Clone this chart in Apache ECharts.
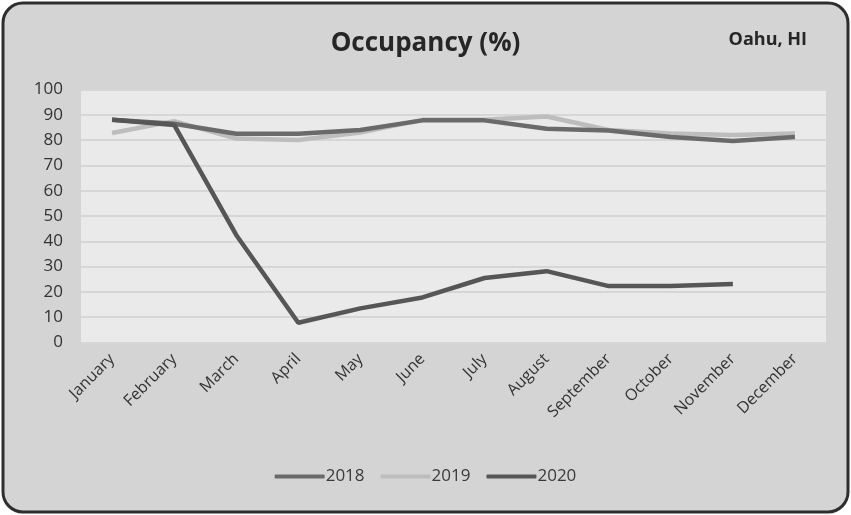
<!DOCTYPE html>
<html><head><meta charset="utf-8">
<script src="https://cdn.jsdelivr.net/npm/echarts@6/dist/echarts.min.js"></script>
<style>html,body{margin:0;padding:0;background:#fff}#c{width:851px;height:515px}</style>
</head><body><div id="c"></div>
<script>
const months = ['January','February','March','April','May','June','July','August','September','October','November','December'];
const y2018 = [88, 86.5, 82.5, 82.5, 84, 87.8, 87.8, 84.5, 83.8, 81.2, 79.6, 81.2];
const y2019 = [82.8, 87.5, 80.6, 80, 83, 88, 88, 89.3, 84, 82.6, 82, 82.6];
const y2020 = [88, 86, 42.5, 7.8, 13.5, 17.8, 25.5, 28.2, 22.3, 22.3, 23.1, null];
const yTicks = [0,10,20,30,40,50,60,70,80,90,100];
const seriesNames = ['2018','2019','2020'];
const colors = ['#6a6a6a','#bdbdbd','#565656'];

const chart = echarts.init(document.getElementById('c'));
const font = 'Open Sans, sans-serif';
chart.setOption({
  backgroundColor: 'transparent',
  animation: false,
  graphic: [{
    type: 'rect', z: -10,
    shape: {x: 3, y: 3, width: 845, height: 509, r: 20},
    style: {fill: '#d4d4d4', stroke: '#2e2e2e', lineWidth: 3}
  }],
  title: [
    {text: 'Occupancy (%)', left: 'center', top: 26, textStyle: {fontFamily: font, fontSize: 26, fontWeight: 'bold', color: '#262626'}},
    {text: 'Oahu, HI', right: 39, top: 26, textStyle: {fontFamily: font, fontSize: 18, fontWeight: 'bold', color: '#262626'}}
  ],
  legend: {
    bottom: 25, left: 'center', itemWidth: 50, itemHeight: 4, itemGap: 16,
    icon: 'roundRect',
    textStyle: {fontFamily: font, fontSize: 17, color: '#3a3a3a', padding: [0,0,0,-4]},
    data: seriesNames
  },
  grid: {left: 81, right: 25, top: 89.5, bottom: 172.5, show: true, backgroundColor: '#eaeaea', borderWidth: 0},
  xAxis: {
    type: 'category', data: months, boundaryGap: true,
    axisLine: {show: false}, axisTick: {show: false},
    axisLabel: {rotate: 45, fontFamily: font, fontSize: 16, color: '#333333', margin: 14, interval: 0}
  },
  yAxis: {
    type: 'value', min: 0, max: 100, interval: 10,
    axisLine: {show: false}, axisTick: {show: false},
    axisLabel: {fontFamily: font, fontSize: 17, color: '#333333', margin: 18,
      formatter: v => yTicks.includes(v) ? String(v) : ''},
    splitLine: {lineStyle: {color: '#d6d6d6', width: 2}}
  },
  series: [
    {name: seriesNames[0], type: 'line', data: y2018, color: colors[0], showSymbol: false, lineStyle: {width: 4.5, color: colors[0]}},
    {name: seriesNames[1], type: 'line', data: y2019, color: colors[1], showSymbol: false, lineStyle: {width: 4.5, color: colors[1]}, z: 1},
    {name: seriesNames[2], type: 'line', data: y2020, color: colors[2], showSymbol: false, lineStyle: {width: 4.5, color: colors[2]}, z: 3}
  ]
});
</script></body></html>
